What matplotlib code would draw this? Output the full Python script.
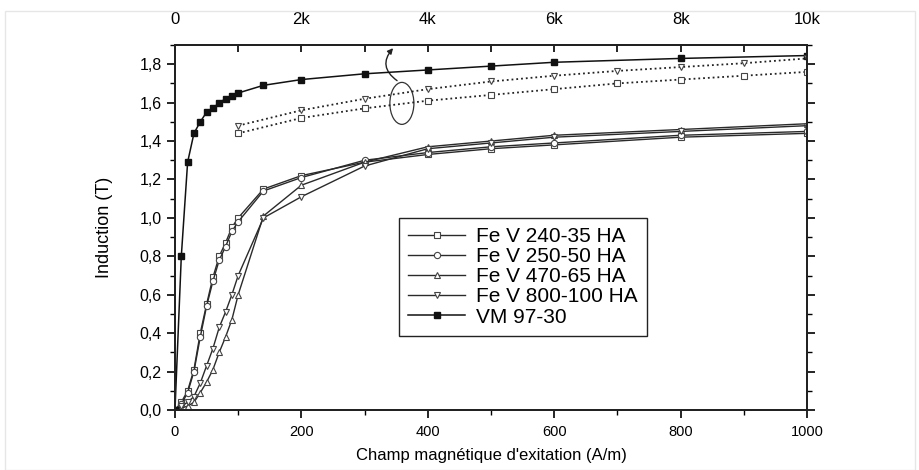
import matplotlib
matplotlib.use("Agg")
import matplotlib.pyplot as plt
from matplotlib.patches import Ellipse, Rectangle
from matplotlib.ticker import MultipleLocator, FixedLocator, FuncFormatter

plt.rcParams['font.family'] = ['Liberation Sans', 'DejaVu Sans']

# ---- data: bottom axis (A/m) ----
H_fe = [0, 10, 20, 30, 40, 50, 60, 70, 80, 90, 100, 140, 200, 300, 400, 500, 600, 800, 1000]
B_240_35 = [0, 0.04, 0.10, 0.21, 0.40, 0.55, 0.69, 0.80, 0.87, 0.95, 1.00, 1.15, 1.22, 1.29, 1.33, 1.36, 1.38, 1.42, 1.44]
B_250_50 = [0, 0.03, 0.09, 0.20, 0.38, 0.54, 0.67, 0.78, 0.85, 0.93, 0.98, 1.14, 1.21, 1.30, 1.34, 1.37, 1.39, 1.43, 1.45]
B_470_65 = [0, 0.01, 0.02, 0.04, 0.09, 0.145, 0.21, 0.30, 0.38, 0.47, 0.60, 1.01, 1.17, 1.29, 1.37, 1.40, 1.43, 1.46, 1.49]
B_800_100 = [0, 0.02, 0.04, 0.07, 0.14, 0.23, 0.32, 0.43, 0.51, 0.60, 0.70, 1.00, 1.11, 1.27, 1.36, 1.39, 1.42, 1.45, 1.48]

# ---- data: top axis (A/m, 0..10k) ----
H_vm = [0, 100, 200, 300, 400, 500, 600, 700, 800, 900, 1000, 1400, 2000, 3000, 4000, 5000, 6000, 8000, 10000]
B_vm = [0, 0.80, 1.29, 1.44, 1.50, 1.55, 1.57, 1.60, 1.62, 1.635, 1.65, 1.69, 1.72, 1.75, 1.77, 1.79, 1.81, 1.83, 1.845]

H_hi = [1000, 2000, 3000, 4000, 5000, 6000, 7000, 8000, 9000, 10000]
B_240_35_hi = [1.44, 1.52, 1.57, 1.61, 1.64, 1.67, 1.70, 1.72, 1.74, 1.76]
B_800_100_hi = [1.48, 1.56, 1.62, 1.67, 1.71, 1.74, 1.765, 1.785, 1.805, 1.83]

labels = ["Fe V 240-35 HA", "Fe V 250-50 HA", "Fe V 470-65 HA", "Fe V 800-100 HA", "VM 97-30"]
x_ticks = [0, 200, 400, 600, 800, 1000]
y_ticks = [0.0, 0.2, 0.4, 0.6, 0.8, 1.0, 1.2, 1.4, 1.6, 1.8]
top_ticks = [0, 2000, 4000, 6000, 8000, 10000]
top_labels = ["0", "2k", "4k", "6k", "8k", "10k"]

fig = plt.figure(figsize=(9.2, 4.7), dpi=100)
# faint outer frame
fig.patches.append(Rectangle((0.005, 0.0), 0.99, 0.976, transform=fig.transFigure,
                             fill=False, edgecolor='#e6e6e6', linewidth=1.0))
ax = fig.add_axes([0.1902, 0.1277, 0.6870, 0.7766])

lc = '#2a2a2a'
mk = dict(markerfacecolor='white', markeredgecolor='#444444', markeredgewidth=0.8, markersize=4.5)
ax.plot(H_fe, B_240_35, '-', color=lc, lw=1.0, marker='s', label=labels[0], **mk)
ax.plot(H_fe, B_250_50, '-', color=lc, lw=1.0, marker='o', label=labels[1], **mk)
ax.plot(H_fe, B_470_65, '-', color=lc, lw=1.0, marker='^', label=labels[2], **mk)
ax.plot(H_fe, B_800_100, '-', color=lc, lw=1.0, marker='v', label=labels[3], **mk)

ax2 = ax.twiny()
l_vm, = ax2.plot(H_vm, B_vm, '-', color='#111111', lw=1.1, marker='s', markersize=4.5,
                 markerfacecolor='#111111', markeredgecolor='#111111', label=labels[4])
ax2.plot(H_hi, B_240_35_hi, ':', color='#222222', lw=1.3, marker='s', **mk)
ax2.plot(H_hi, B_800_100_hi, ':', color='#222222', lw=1.3, marker='v', **mk)

ax.set_xlim(0, 1000)
ax.set_ylim(0, 1.9)
ax2.set_xlim(0, 10000)

ax.xaxis.set_major_locator(FixedLocator(x_ticks))
ax.xaxis.set_minor_locator(MultipleLocator(100))
ax.yaxis.set_major_locator(FixedLocator(y_ticks))
ax.yaxis.set_minor_locator(MultipleLocator(0.1))
ax.yaxis.set_major_formatter(FuncFormatter(lambda v, p: f"{v:.1f}".replace('.', ',')))
ax.tick_params(axis='both', which='major', direction='out', length=6, width=1.2)
ax.tick_params(axis='y', which='major', labelsize=11.5)
ax.tick_params(axis='both', which='minor', direction='out', length=3.5, width=1.0)
ax.tick_params(axis='y', which='both', right=True)
ax.tick_params(axis='x', labelsize=10.5, pad=5)

ax2.xaxis.set_major_locator(FixedLocator(top_ticks))
ax2.set_xticklabels(top_labels)
ax2.xaxis.set_minor_locator(MultipleLocator(1000))
ax2.tick_params(axis='x', which='major', direction='in', length=5, width=1.2, labelsize=12, pad=13)
ax2.tick_params(axis='x', which='minor', direction='in', length=5, width=1.2)

for a in (ax, ax2):
    for s in a.spines.values():
        s.set_linewidth(1.4)
        s.set_color('#222222')

ax.set_xlabel("Champ magnétique d'exitation (A/m)", fontsize=12, labelpad=6)
ax.set_ylabel("Induction (T)", fontsize=13, labelpad=19)

handles, labs = ax.get_legend_handles_labels()
handles.append(l_vm)
labs.append(labels[4])
leg = ax.legend(handles, labs, loc='upper left', bbox_to_anchor=(0.354, 0.526),
                fontsize=15, frameon=True, fancybox=False, framealpha=1,
                edgecolor='#222222', handlelength=2.75, handletextpad=0.5,
                labelspacing=0.05, borderpad=0.45, borderaxespad=0)
leg.get_frame().set_linewidth(1.0)

# annotation: ellipse around the dotted curves with arrow to top axis
ax.add_patch(Ellipse((0.359, 0.84), 0.038, 0.115, transform=ax.transAxes,
                     fill=False, edgecolor='#333333', lw=0.9))
ax.annotate("", xy=(0.348, 0.997), xycoords='axes fraction',
            xytext=(0.355, 0.898), textcoords='axes fraction',
            arrowprops=dict(arrowstyle='-|>', color='#222222', lw=1.0,
                            connectionstyle='arc3,rad=-0.6', mutation_scale=8))

fig.savefig("out.png", dpi=100)
